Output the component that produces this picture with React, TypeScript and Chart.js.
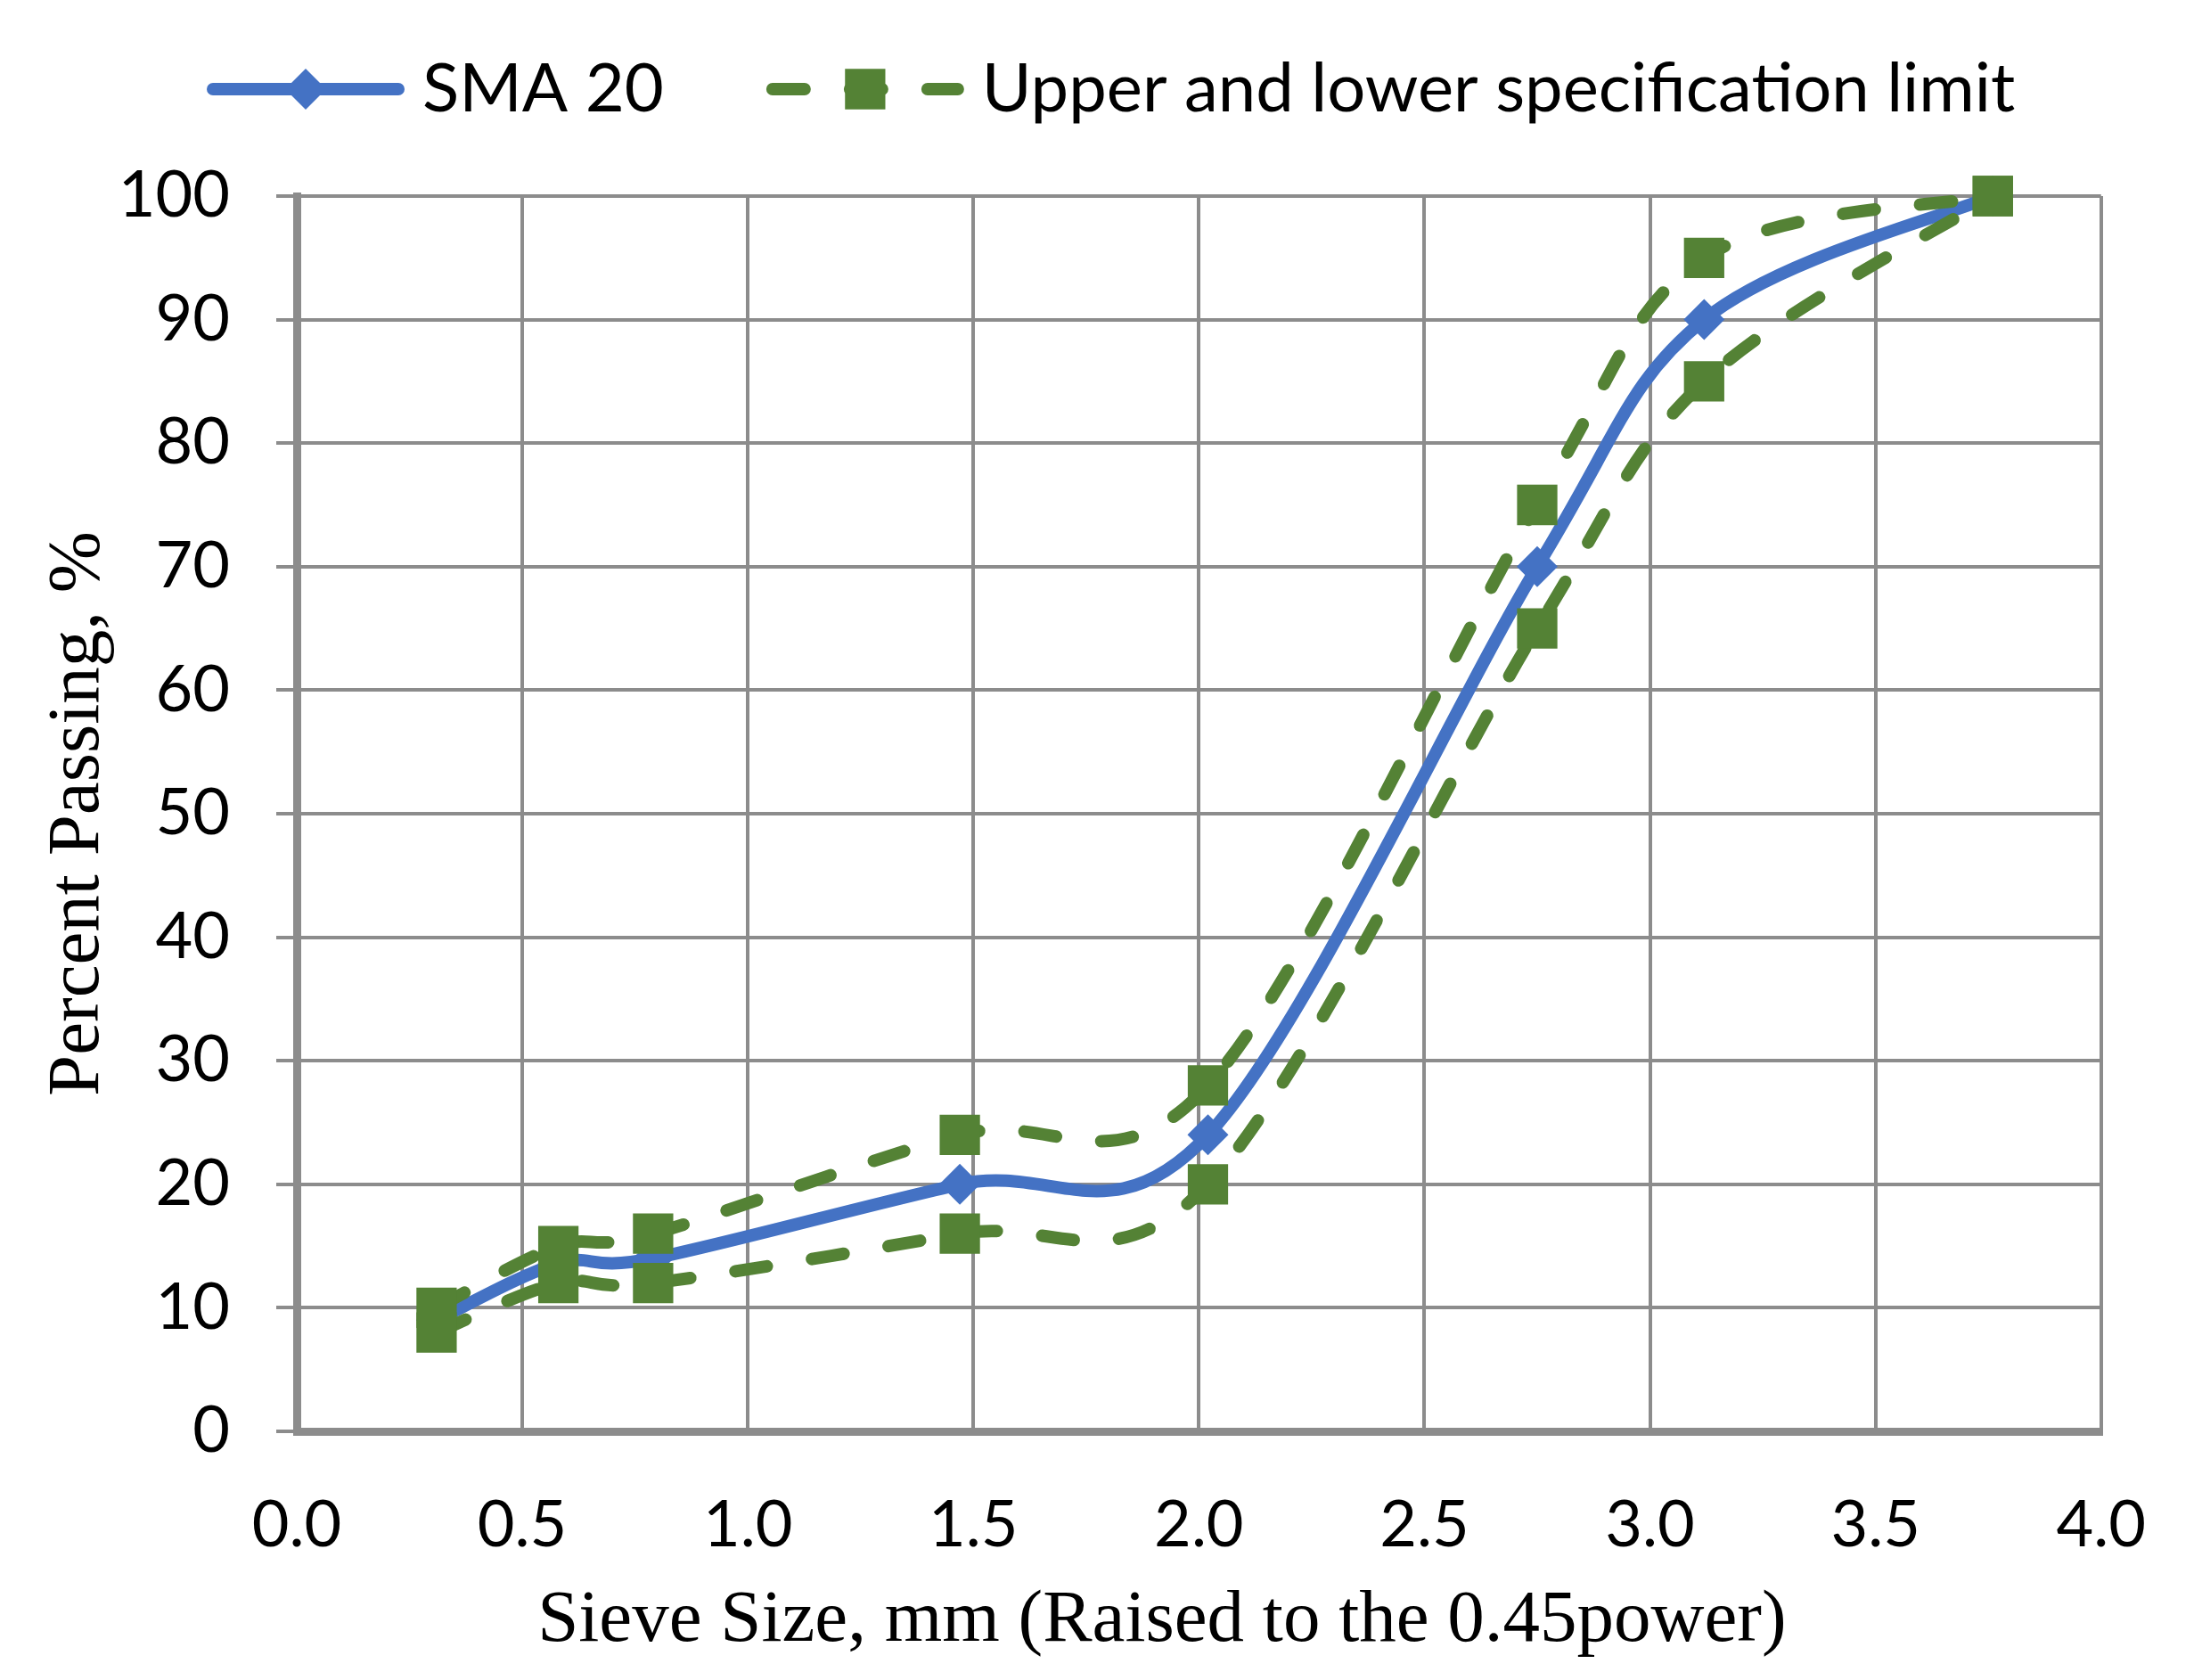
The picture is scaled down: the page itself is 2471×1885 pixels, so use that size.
import { useEffect, useRef } from 'react';
import { Chart, registerables } from 'chart.js';

Chart.register(...registerables);

// sieve size (mm) raised to the 0.45 power
const sieveX = [0.31, 0.58, 0.79, 1.47, 2.02, 2.75, 3.12, 3.76];
// percent passing
const sma20 = [9, 13.6, 14, 20, 24, 70, 90, 100];
const upperLimit = [10, 15, 16, 24, 28, 75, 95, 100];
const lowerLimit = [8, 12, 12, 16, 20, 65, 85, 100];

const seriesLabels = ['SMA 20', 'Upper and lower specification limit'];
// trailing spaces nudge the centred title a little to the left, as in the original
const xTitle = 'Sieve Size, mm (Raised to the 0.45power)\u00a0\u00a0\u00a0\u00a0';
const yTitle = 'Percent Passing, %';

const BLUE = '#4472c4';
const GREEN = '#548235';
const GRID = '#8c8c8c';
const TICK_FONT = { family: 'Lato', size: 72 };
const LEGEND_FONT = { family: 'Lato', size: 76 };
const TITLE_FONT = { family: 'Liberation Serif', size: 83 };

const toPoints = (ys: number[]) => sieveX.map((x, i) => ({ x, y: ys[i] }));

// Excel style smoothing: Catmull-Rom control points (1/6 of the neighbour chord)
const excelSmoothing = {
  id: 'excelSmoothing',
  beforeDatasetDraw(chart: Chart, args: any) {
    const line = args.meta.dataset;
    const pts = args.meta.data as any[];
    if (!line || pts.length < 2) return;
    line.updateControlPoints(chart.chartArea, chart.options.indexAxis);
    for (let i = 0; i < pts.length; i++) {
      const p = pts[i];
      const prev = pts[Math.max(i - 1, 0)];
      const next = pts[Math.min(i + 1, pts.length - 1)];
      const dx = (next.x - prev.x) / 6;
      const dy = (next.y - prev.y) / 6;
      p.cp1x = p.x - dx;
      p.cp1y = p.y - dy;
      p.cp2x = p.x + dx;
      p.cp2y = p.y + dy;
    }
  },
};

// Excel style legend: short line with the marker in the middle, then the label
const excelLegend = {
  id: 'excelLegend',
  afterDraw(chart: Chart) {
    const ctx = chart.ctx;
    const sets = chart.data.datasets as any[];
    const y = 100;
    const lineLen = 222;
    let x = 232;
    ctx.save();
    ctx.font = `${LEGEND_FONT.size}px ${LEGEND_FONT.family}`;
    ctx.textBaseline = 'middle';
    [sets[0], sets[1]].forEach((ds, i) => {
      const w = ds.borderWidth;
      ctx.strokeStyle = ds.borderColor;
      ctx.lineWidth = w;
      ctx.lineCap = 'round';
      ctx.setLineDash(ds.borderDash || []);
      ctx.beginPath();
      ctx.moveTo(x + w / 2, y);
      ctx.lineTo(x + lineLen - w / 2, y);
      ctx.stroke();
      ctx.setLineDash([]);
      const cx = x + lineLen / 2;
      ctx.fillStyle = ds.pointBackgroundColor;
      ctx.beginPath();
      if (ds.pointStyle === 'rectRot') {
        const r = ds.pointRadius;
        ctx.moveTo(cx - r, y);
        ctx.lineTo(cx, y - r);
        ctx.lineTo(cx + r, y);
        ctx.lineTo(cx, y + r);
        ctx.closePath();
      } else {
        const h = Math.SQRT1_2 * ds.pointRadius;
        ctx.rect(cx - h, y - h, 2 * h, 2 * h);
      }
      ctx.fill();
      ctx.fillStyle = '#000';
      const label = seriesLabels[i];
      const tx = x + lineLen + 20;
      ctx.fillText(label, tx, y);
      x = tx + ctx.measureText(label).width + 115;
    });
    ctx.restore();
  },
};

export default function App() {
  const canvasRef = useRef<HTMLCanvasElement>(null);

  useEffect(() => {
    if (!canvasRef.current) return;

    const specStyle = {
      borderColor: GREEN,
      backgroundColor: GREEN,
      borderWidth: 14,
      borderDash: [36, 51],
      borderCapStyle: 'round' as const,
      borderJoinStyle: 'round' as const,
      pointStyle: 'rect' as const,
      pointRadius: 32,
      pointBackgroundColor: GREEN,
      pointBorderWidth: 0,
      tension: 0.4,
      clip: false as const,
      order: 0,
    };

    const chart = new Chart(canvasRef.current, {
      type: 'line',
      data: {
        datasets: [
          {
            label: seriesLabels[0],
            data: toPoints(sma20),
            borderColor: BLUE,
            backgroundColor: BLUE,
            borderWidth: 14,
            borderCapStyle: 'round',
            borderJoinStyle: 'round',
            pointStyle: 'rectRot',
            pointRadius: 23,
            pointBackgroundColor: BLUE,
            pointBorderWidth: 0,
            tension: 0.4,
            clip: false,
            order: 1,
          },
          { label: seriesLabels[1], data: toPoints(upperLimit), ...specStyle },
          { label: 'lower', data: toPoints(lowerLimit), ...specStyle },
        ],
      },
      options: {
        responsive: true,
        maintainAspectRatio: false,
        animation: false,
        events: [],
        layout: { padding: { top: 220, right: 111, bottom: 0, left: 0 } },
        plugins: {
          legend: { display: false },
          tooltip: { enabled: false },
        },
        scales: {
          x: {
            type: 'linear',
            min: 0,
            max: 4,
            afterFit: (scale) => {
              scale.height = 279;
            },
            ticks: {
              stepSize: 0.5,
              autoSkip: false,
              maxRotation: 0,
              padding: 63,
              color: '#000',
              font: TICK_FONT,
              callback: (v) => Number(v).toFixed(1),
            },
            grid: { color: GRID, lineWidth: 4, drawTicks: false },
            border: { color: GRID, width: 9 },
            title: {
              display: true,
              text: xTitle,
              color: '#000',
              font: TITLE_FONT,
              padding: { top: 0, bottom: 16 },
            },
          },
          y: {
            type: 'linear',
            min: 0,
            max: 100,
            afterFit: (scale) => {
              scale.width = 333;
            },
            ticks: {
              stepSize: 10,
              padding: 52,
              color: '#000',
              font: TICK_FONT,
            },
            grid: { color: GRID, lineWidth: 4, tickLength: 23, tickWidth: 4, tickColor: GRID },
            border: { color: GRID, width: 9 },
            title: {
              display: true,
              text: yTitle,
              color: '#000',
              font: TITLE_FONT,
              padding: { top: 38, bottom: 0 },
            },
          },
        },
      },
      plugins: [excelSmoothing, excelLegend],
    });

    let alive = true;
    Promise.all([
      document.fonts.load('72px Lato'),
      document.fonts.load('83px "Liberation Serif"'),
    ]).then(() => {
      if (alive) chart.update();
    });

    return () => {
      alive = false;
      chart.destroy();
    };
  }, []);

  return (
    <div style={{ position: 'fixed', left: 0, top: 0, width: 2471, height: 1885, background: '#fff' }}>
      <canvas ref={canvasRef} />
    </div>
  );
}
